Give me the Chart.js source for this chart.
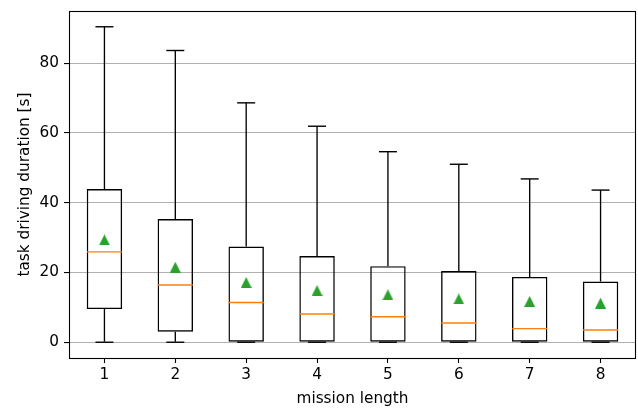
<!DOCTYPE html>
<html><head><meta charset="utf-8">
<script src="https://cdn.jsdelivr.net/npm/chart.js@4/dist/chart.umd.min.js"></script>
<style>html,body{margin:0;padding:0;background:#fff}#wrap{width:638px;height:408px}</style>
</head><body><div id="wrap"><canvas id="c" width="638" height="408"></canvas></div>
<script>
const categories = [1, 2, 3, 4, 5, 6, 7, 8];
const whiskerLow = [0, 0, 0, 0, 0, 0, 0, 0];
const q1 = [9.5, 3.0, 0, 0, 0, 0, 0, 0];
const medians = [25.9, 16.4, 11.4, 8.1, 7.3, 5.5, 3.9, 3.5];
const q3 = [43.9, 35.3, 27.4, 24.7, 21.8, 20.4, 18.7, 17.4];
const whiskerHigh = [90.4, 83.6, 68.6, 61.9, 54.6, 51.0, 46.8, 43.6];
const means = [29.3, 21.5, 17.1, 14.8, 13.6, 12.4, 11.7, 11.2];
const yTicks = [0, 20, 40, 60, 80];

const FONT = 'DejaVu Sans';
Chart.defaults.font.family = FONT;
Chart.defaults.color = '#000';

// triangle marker centred on its bounding box (matplotlib '^')
const tri = document.createElement('canvas');
tri.width = 11; tri.height = 11;
(function(){
  const t = tri.getContext('2d');
  t.fillStyle = '#2ca02c';
  t.beginPath(); t.moveTo(5.5, 0); t.lineTo(11, 11); t.lineTo(0, 11); t.closePath(); t.fill();
})();

const boxData = categories.map((c, i) => ({x: c, y: [q1[i], q3[i]]}));
const upperWhisker = categories.map((c, i) => ({x: c, y: [q3[i], whiskerHigh[i]]}));
const lowerWhisker = categories.map((c, i) => ({x: c, y: [whiskerLow[i], q1[i]]}));
const medianPts = categories.map((c, i) => ({x: c, y: medians[i]}));
const capHi = categories.map((c, i) => ({x: c, y: whiskerHigh[i]}));
const capLo = categories.map((c, i) => ({x: c, y: whiskerLow[i]}));
const meanPts = categories.map((c, i) => ({x: c, y: means[i]}));

const frame = {
  id: 'frame',
  afterDraw(chart) {
    const a = chart.chartArea, ctx = chart.ctx;
    ctx.save();
    ctx.strokeStyle = '#000'; ctx.lineWidth = 1.1;
    ctx.strokeRect(Math.round(a.left) + 0.5, Math.round(a.top) + 0.5,
                   Math.round(a.right - a.left) - 1, Math.round(a.bottom - a.top));
    ctx.restore();
  }
};

new Chart(document.getElementById('c'), {
  type: 'bar',
  data: {
    datasets: [
      {type: 'bar', data: upperWhisker, backgroundColor: '#000', borderWidth: 0,
       grouped: false, barPercentage: 0.019, categoryPercentage: 1, order: 5},
      {type: 'bar', data: lowerWhisker, backgroundColor: '#000', borderWidth: 0,
       grouped: false, barPercentage: 0.019, categoryPercentage: 1, order: 5},
      {type: 'bar', data: boxData, backgroundColor: 'rgba(0,0,0,0)', borderColor: '#000',
       borderWidth: 1.4, borderSkipped: false, grouped: false,
       barPercentage: 0.5, categoryPercentage: 1, order: 4},
      {type: 'scatter', data: capHi, pointStyle: 'line', radius: 9, borderColor: '#000',
       borderWidth: 1.4, order: 3},
      {type: 'scatter', data: capLo, pointStyle: 'line', radius: 9, borderColor: '#000',
       borderWidth: 1.4, order: 3},
      {type: 'scatter', data: medianPts, pointStyle: 'line', radius: 17.5, borderColor: '#ff7f0e',
       borderWidth: 1.4, order: 2},
      {type: 'scatter', data: meanPts, pointStyle: tri, radius: 6, order: 1}
    ]
  },
  options: {
    responsive: false,
    devicePixelRatio: 1,
    animation: false,
    events: [],
    layout: {autoPadding: false, padding: {left: 0, right: 2, top: 11, bottom: 0}},
    plugins: {legend: {display: false}, tooltip: {enabled: false}},
    scales: {
      x: {
        type: 'linear', min: 0.5, max: 8.5, offset: false,
        afterBuildTicks: s => { s.ticks = categories.map(v => ({value: v})); },
        afterFit: s => { s.height = 50; s.paddingLeft = 0; s.paddingRight = 0; },
        grid: {display: true, drawOnChartArea: false, offset: false, tickLength: 5, tickColor: '#000', tickWidth: 1.1},
        border: {display: false},
        ticks: {font: {size: 15.3}, padding: 3, maxRotation: 0, callback: v => String(v)},
        title: {display: true, text: 'mission length', font: {size: 15.3}, padding: {top: 0, bottom: 0}}
      },
      y: {
        type: 'linear', min: -4.52, max: 94.92,
        afterBuildTicks: s => { s.ticks = yTicks.map(v => ({value: v})); },
        afterFit: s => { s.width = 69; s.paddingTop = 0; s.paddingBottom = 0; },
        grid: {display: true, color: '#b0b0b0', lineWidth: 1.1, tickLength: 5, tickColor: '#000', tickWidth: 1.1},
        border: {display: false},
        ticks: {font: {size: 15.3}, padding: 5, callback: v => String(v)},
        title: {display: true, text: 'task driving duration [s]', font: {size: 15.3}, padding: {top: 16, bottom: 0}}
      }
    }
  },
  plugins: [frame]
});
</script>
</body></html>
